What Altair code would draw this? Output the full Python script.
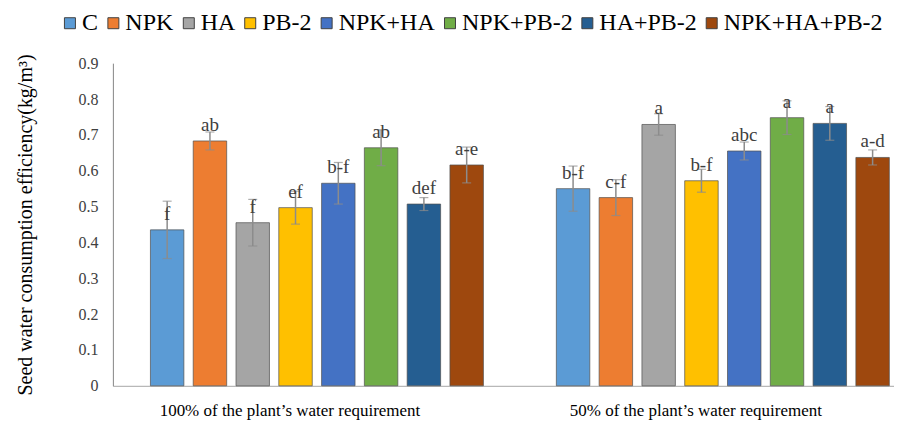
import altair as alt
import pandas as pd

treatments = ["C", "NPK", "HA", "PB-2", "NPK+HA", "NPK+PB-2", "HA+PB-2", "NPK+HA+PB-2"]
colors = ["#5B9BD5", "#ED7D31", "#A5A5A5", "#FFC000", "#4472C4", "#70AD47", "#255E91", "#9E480E"]
groups = ["100% of the plant\u2019s water requirement", "50% of the plant\u2019s water requirement"]
y_ticks = [0, 0.1, 0.2, 0.3, 0.4, 0.5, 0.6, 0.7, 0.8, 0.9]

values_100 = [0.435, 0.683, 0.455, 0.497, 0.565, 0.664, 0.507, 0.616]
errors_100 = [0.080, 0.025, 0.065, 0.046, 0.058, 0.050, 0.018, 0.050]
letters_100 = ["f", "ab", "f", "ef", "b-f", "ab", "def", "a-e"]

values_50 = [0.550, 0.525, 0.729, 0.572, 0.655, 0.748, 0.732, 0.637]
errors_50 = [0.063, 0.050, 0.030, 0.032, 0.025, 0.047, 0.047, 0.021]
letters_50 = ["b-f", "c-f", "a", "b-f", "abc", "a", "a", "a-d"]

rows = []
for g, vals, errs, lets in [(groups[0], values_100, errors_100, letters_100),
                            (groups[1], values_50, errors_50, letters_50)]:
    for t, v, e, l in zip(treatments, vals, errs, lets):
        rows.append({"group": g, "treatment": t, "value": v,
                     "lo": v - e, "hi": v + e, "letter": l})
df = pd.DataFrame(rows)

FONT = "Liberation Serif"

x_enc = alt.X("group:N", sort=groups, title=None,
              scale=alt.Scale(paddingInner=0.1567, paddingOuter=0.0405, align=1),
              axis=alt.Axis(labelFont=FONT, labelFontSize=17, labelColor="#000000",
                            labelAngle=0, ticks=False, tickSize=0, labelPadding=30,
                            labelBaseline="alphabetic", labelOffset=-27, labelLimit=0,
                            domainColor="#A6A6A6", domainWidth=1))
xo_enc = alt.XOffset("treatment:N", sort=treatments,
                     scale=alt.Scale(paddingInner=0.218, paddingOuter=0.109))
y_scale = alt.Scale(domain=[0, 0.9], nice=False)
y_axis = alt.Axis(values=y_ticks, format=".1~f", grid=False, ticks=False, tickSize=0,
                  labelOverlap=False,
                  labelPadding=15, labelFont=FONT, labelFontSize=16,
                  labelColor="#404040",
                  domainColor="#868686", domainWidth=1,
                  titleFont=FONT, titleFontSize=20, titleFontWeight="normal",
                  titleColor="#000000", titleX=-77)
Y_TITLE = "Seed water consumption efficiency(kg/m\u00b3)"


def yq(field):
    return alt.Y(field, scale=y_scale, title=Y_TITLE, axis=y_axis)


bars = alt.Chart(df).mark_bar(stroke="#505050", strokeWidth=1, strokeOpacity=0.7).encode(
    x=x_enc,
    xOffset=xo_enc,
    y=yq("value:Q"),
    color=alt.Color("treatment:N", sort=treatments,
                    scale=alt.Scale(domain=treatments, range=colors),
                    legend=alt.Legend(title=None, orient="none", legendX=-55, legendY=-52,
                                      direction="horizontal", columns=8, columnPadding=2.5,
                                      symbolType="square", symbolSize=121,
                                      symbolStrokeColor="#404040", symbolStrokeWidth=1,
                                      labelFont=FONT, labelFontSize=24, labelColor="#000000",
                                      labelOffset=0, padding=0, labelLimit=300)),
)

rules = alt.Chart(df).mark_rule(color="#8C8C8C", strokeWidth=1.5).encode(
    x=x_enc, xOffset=xo_enc, y=yq("lo:Q"), y2="hi:Q")

caps_lo = alt.Chart(df).mark_tick(color="#8C8C8C", orient="horizontal", size=9, thickness=1.2).encode(
    x=x_enc, xOffset=xo_enc, y=yq("lo:Q"))
caps_hi = alt.Chart(df).mark_tick(color="#8C8C8C", orient="horizontal", size=9, thickness=1.2).encode(
    x=x_enc, xOffset=xo_enc, y=yq("hi:Q"))

labels = alt.Chart(df).mark_text(font=FONT, fontSize=19, color="#404040",
                                 baseline="alphabetic", dy=-10).encode(
    x=x_enc, xOffset=xo_enc, y=yq("value:Q"), text="letter:N")

chart = alt.layer(bars, rules, caps_lo, caps_hi, labels).properties(
    width=782, height=323,
    autosize=alt.AutoSizeParams(type="none"),
    padding={"left": 105, "top": 55, "right": 0, "bottom": 36},
).configure_view(stroke=None)

chart.save("out.html", embed_options={"renderer": "svg", "actions": False})
